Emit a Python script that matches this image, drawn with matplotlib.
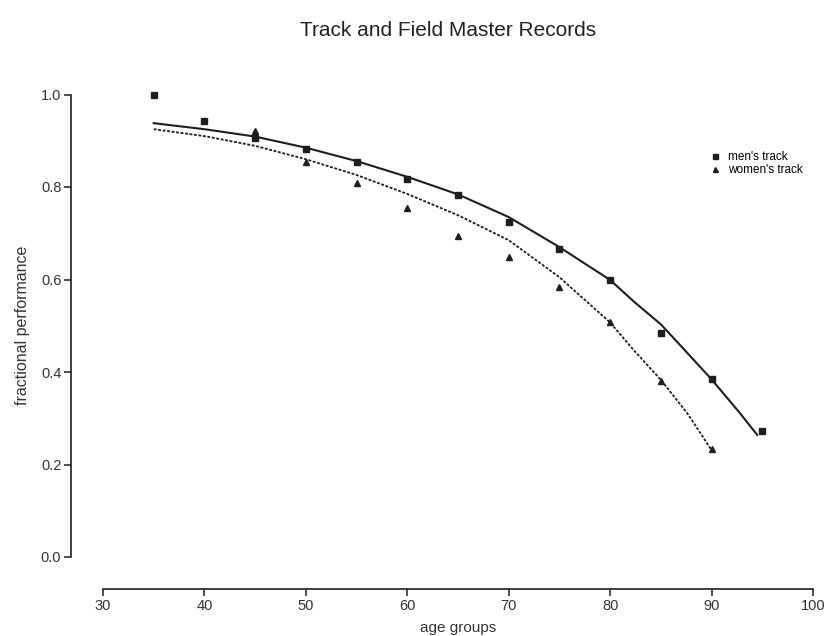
import matplotlib
matplotlib.use("Agg")
import matplotlib.pyplot as plt

plt.rcParams['font.family'] = ['Liberation Sans', 'DejaVu Sans']

# ---- data ----
men_age = [35, 40, 45, 50, 55, 60, 65, 70, 75, 80, 85, 90, 95]
men_perf = [1.000, 0.943, 0.907, 0.882, 0.854, 0.817, 0.783, 0.724, 0.666, 0.599, 0.485, 0.384, 0.273]

women_age = [45, 50, 55, 60, 65, 70, 75, 80, 85, 90]
women_perf = [0.922, 0.853, 0.808, 0.754, 0.694, 0.649, 0.584, 0.509, 0.381, 0.234]

# fitted curves
men_fit_age = [35, 40, 45, 50, 55, 60, 65, 70, 75, 80, 82.3, 85, 87.2, 90, 92.8, 94.5]
men_fit = [0.938, 0.925, 0.909, 0.885, 0.856, 0.822, 0.784, 0.735, 0.670, 0.599, 0.553,
           0.503, 0.451, 0.384, 0.311, 0.264]

women_fit_age = [35, 40, 45, 50, 55, 60, 65, 70, 75, 80, 82.3, 85, 87.6, 90]
women_fit = [0.925, 0.910, 0.889, 0.860, 0.826, 0.785, 0.739, 0.685, 0.605, 0.507, 0.448,
             0.383, 0.311, 0.231]

x_ticks = [30, 40, 50, 60, 70, 80, 90, 100]
y_ticks = [0.0, 0.2, 0.4, 0.6, 0.8, 1.0]

W, H = 830, 636
fig = plt.figure(figsize=(W / 100, H / 100), dpi=100)
left_px, right_px = 103, 813
top_px, bot_px = 94.5, 557
ax = fig.add_axes([left_px / W, 1 - bot_px / H, (right_px - left_px) / W, (bot_px - top_px) / H])

ink = '#1e1e1e'
ax.plot(men_fit_age, men_fit, color=ink, lw=1.5, ls='-')
ax.plot(women_fit_age, women_fit, color=ink, lw=1.3, ls=(0, (1.6, 0.9)))
ax.plot(men_age, men_perf, ls='none', marker='s', ms=4.5, color=ink, label="men's track",
        clip_on=False)
ax.plot(women_age, women_perf, ls='none', marker='^', ms=4.5, color=ink, label="women's track",
        clip_on=False)

ax.set_xlim(30, 100)
ax.set_ylim(0, 1.0)
ax.set_xticks(x_ticks)
ax.set_yticks(y_ticks)
ax.set_yticklabels([f"{v:.1f}" for v in y_ticks])

for s in ['top', 'right']:
    ax.spines[s].set_visible(False)
ax.spines['left'].set_position(('outward', 23))
ax.spines['bottom'].set_position(('outward', 23))
ax.spines['left'].set_bounds(0, 1.0)
ax.spines['bottom'].set_bounds(30, 100)
for s in ['left', 'bottom']:
    ax.spines[s].set_linewidth(1.2)
    ax.spines[s].set_color(ink)

ax.tick_params(axis='both', direction='out', length=5, width=1.1, color=ink,
               labelsize=10.5, labelcolor='#333333', pad=2)

ax.set_xlabel('age groups', fontsize=11, color='#333333', labelpad=6)
ax.set_ylabel('fractional performance', fontsize=11.5, color='#333333', labelpad=8)
fig.text(0.54, 1 - 30 / H, 'Track and Field Master Records', fontsize=15, color='#222222',
         ha='center', va='center')

ax.legend(loc='upper right', bbox_to_anchor=(1.0, 0.9), frameon=False, fontsize=8.5,
          handletextpad=0.6, labelspacing=0.05, handlelength=1.0, markerscale=0.8)

fig.savefig('out.png', dpi=100)
